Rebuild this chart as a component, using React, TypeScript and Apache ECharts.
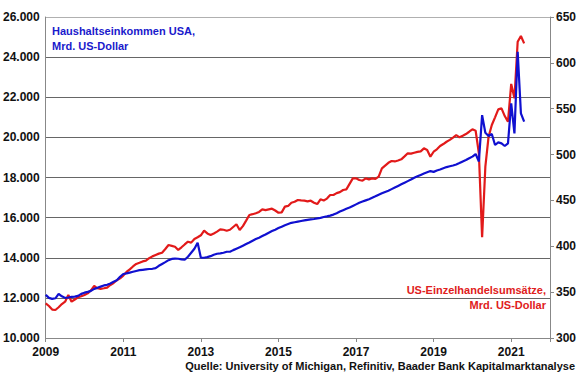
import React, { useEffect, useRef } from "react";
import * as echarts from "echarts";

const X_TICK_LABELS = ["2009", "2011", "2013", "2015", "2017", "2019", "2021"];

// Haushaltseinkommen USA, Mrd. US-Dollar (monthly, Jan 2009 - May 2021)
const income2009 = [12150, 12000, 11950, 11980, 12200, 12080, 12000, 12020, 12050, 12060, 12100, 12200];
const income2010 = [12260, 12300, 12350, 12450, 12500, 12560, 12620, 12650, 12720, 12800, 12880, 13050];
const income2011 = [13190, 13220, 13260, 13300, 13340, 13380, 13400, 13420, 13440, 13450, 13480, 13600];
const income2012 = [13690, 13780, 13880, 13940, 13960, 13950, 13920, 13900, 14050, 14250, 14450, 14750];
const income2013 = [14000, 14000, 14030, 14080, 14150, 14200, 14220, 14250, 14300, 14300, 14380, 14450];
const income2014 = [14520, 14600, 14680, 14760, 14850, 14930, 15000, 15080, 15160, 15250, 15330, 15400];
const income2015 = [15480, 15550, 15620, 15680, 15740, 15770, 15800, 15830, 15860, 15890, 15910, 15930];
const income2016 = [15960, 15990, 16030, 16060, 16100, 16150, 16220, 16300, 16370, 16440, 16500, 16580];
const income2017 = [16660, 16740, 16800, 16860, 16920, 16990, 17060, 17140, 17210, 17280, 17340, 17420];
const income2018 = [17500, 17580, 17660, 17740, 17820, 17900, 17990, 18060, 18130, 18200, 18260, 18320];
const income2019 = [18280, 18350, 18400, 18460, 18520, 18560, 18600, 18650, 18720, 18800, 18870, 18960];
const income2020 = [19040, 19170, 18800, 21110, 20230, 20070, 20170, 19620, 19750, 19700, 19570, 19700];
const income2021 = [21700, 20200, 24270, 21200, 20780];

// US-Einzelhandelsumsätze, Mrd. US-Dollar (monthly, Jan 2009 - May 2021)
const retail2009 = [337.8, 334.9, 331, 330.5, 333.5, 337, 339.6, 346.9, 339.6, 342, 344.4, 345.5];
const retail2010 = [346.9, 348.7, 352, 356.7, 354.2, 353.5, 354.2, 355, 357.8, 360, 363, 365];
const retail2011 = [368, 372, 374.9, 378, 380.7, 382, 383.5, 384.3, 387, 389, 390.5, 392];
const retail2012 = [393, 397, 401.4, 400.5, 399.5, 396, 398.9, 402, 405, 404, 408, 409.8];
const retail2013 = [412, 417, 414, 412.3, 414, 416, 418.5, 418, 417, 418, 421, 424];
const retail2014 = [417.8, 422, 428, 434.1, 435, 436, 437.5, 440.3, 439.5, 440.3, 441, 439];
const retail2015 = [436.6, 437, 443.2, 444, 447.5, 448.5, 450.5, 450, 449.7, 449, 449.7, 447.5];
const retail2016 = [446, 451.2, 450, 452, 455.9, 456, 458, 459, 461.4, 462, 468, 474];
const retail2017 = [474.1, 472.3, 471.5, 474.1, 473, 474, 473.5, 475.9, 485, 488, 491, 493];
const retail2018 = [492.5, 493.5, 494.8, 498, 501.4, 501, 502, 503, 503.5, 506.8, 505, 497.7];
const retail2019 = [503.1, 505.7, 509.3, 511.5, 514, 516, 518.5, 521.3, 518.8, 520.5, 522.4, 524.9];
const retail2020 = [527.5, 526, 501.4, 409.8, 486.8, 519.5, 532.2, 540.6, 549.3, 550.4, 542, 535.9];
const retail2021 = [577, 561.3, 623, 629.3, 621.3];

const incomeValues = [
  ...income2009, ...income2010, ...income2011, ...income2012, ...income2013, ...income2014, ...income2015,
  ...income2016, ...income2017, ...income2018, ...income2019, ...income2020, ...income2021,
];
const retailValues = [
  ...retail2009, ...retail2010, ...retail2011, ...retail2012, ...retail2013, ...retail2014, ...retail2015,
  ...retail2016, ...retail2017, ...retail2018, ...retail2019, ...retail2020, ...retail2021,
];

const FONT = "'Liberation Sans', Arial, sans-serif";
const BLUE = "#1010d0";
const RED = "#e21a1a";

function fmtThousands(v: number) {
  const s = Math.round(v).toString();
  return s.replace(/\B(?=(\d{3})+(?!\d))/g, ".");
}

export default function App() {
  const ref = useRef<HTMLDivElement>(null);
  useEffect(() => {
    document.body.style.margin = "0";
    if (!ref.current) return;
    const chart = echarts.init(ref.current, null, { renderer: "svg" });
    const toX = (i: number) => i / 12; // months since Jan 2009, in years
    const incomeData = incomeValues.map((v, i) => [toX(i), v]);
    const retailData = retailValues.map((v, i) => [toX(i), v]);
    chart.setOption({
      animation: false,
      backgroundColor: "#ffffff",
      grid: { left: 44, right: 30, top: 17, bottom: 37, containLabel: false },
      xAxis: {
        type: "value",
        min: 0,
        max: 13,
        interval: 2,
        axisLine: { show: true, lineStyle: { color: "#888888", width: 1 } },
        axisTick: { show: true, length: 4, inside: false, lineStyle: { color: "#888888" } },
        splitLine: { show: false },
        axisLabel: {
          color: "#111",
          fontFamily: FONT,
          fontWeight: "bold",
          fontSize: 12,
          margin: 8,
          formatter: (v: number) => {
            const idx = Math.round(v / 2);
            return X_TICK_LABELS[idx] ?? "";
          },
        },
      },
      yAxis: [
        {
          type: "value",
          min: 10000,
          max: 26000,
          interval: 2000,
          position: "left",
          axisLine: { show: true, lineStyle: { color: "#888888" } },
          axisTick: { show: false },
          splitLine: {
            show: true,
            lineStyle: {
              color: ["#888888", "#666666", "#666666", "#666666", "#666666", "#666666", "#666666", "#666666", "#b0b0b0"],
              width: 1,
            },
          },
          axisLabel: {
            color: "#111",
            fontFamily: FONT,
            fontWeight: "bold",
            fontSize: 12,
            margin: 6,
            formatter: (v: number) => fmtThousands(v),
          },
        },
        {
          type: "value",
          min: 300,
          max: 650,
          interval: 50,
          position: "right",
          axisLine: { show: true, lineStyle: { color: "#888888" } },
          axisTick: { show: true, length: 4, lineStyle: { color: "#888888" } },
          splitLine: { show: false },
          axisLabel: {
            color: "#111",
            fontFamily: FONT,
            fontWeight: "bold",
            fontSize: 12,
            margin: 6,
          },
        },
      ],
      series: [
        {
          name: "Haushaltseinkommen USA",
          type: "line",
          yAxisIndex: 0,
          data: incomeData,
          showSymbol: false,
          lineStyle: { color: BLUE, width: 2.2 },
          itemStyle: { color: BLUE },
          z: 3,
        },
        {
          name: "US-Einzelhandelsumsätze",
          type: "line",
          yAxisIndex: 1,
          data: retailData,
          showSymbol: false,
          lineStyle: { color: RED, width: 2.2 },
          itemStyle: { color: RED },
          z: 2,
        },
      ],
      graphic: [
        {
          type: "text",
          left: 52,
          top: 23,
          style: {
            text: "Haushaltseinkommen USA,\nMrd. US-Dollar",
            fill: "#1a1acc",
            font: `bold 11px ${FONT}`,
            lineHeight: 15,
          },
        },
        {
          type: "text",
          right: 34,
          top: 284,
          style: {
            text: "US-Einzelhandelsumsätze,",
            fill: "#e02020",
            font: `bold 11px ${FONT}`,
          },
        },
        {
          type: "text",
          right: 34,
          top: 299,
          style: {
            text: "Mrd. US-Dollar",
            fill: "#e02020",
            font: `bold 11px ${FONT}`,
          },
        },
        {
          type: "text",
          right: 5,
          top: 360,
          style: {
            text: "Quelle: University of Michigan, Refinitiv, Baader Bank Kapitalmarktanalyse",
            fill: "#111",
            font: `bold 11px ${FONT}`,
          },
        },
      ],
    });
    return () => chart.dispose();
  }, []);
  return (
    <div
      ref={ref}
      style={{ position: "absolute", left: 0, top: 0, width: 580, height: 375, background: "#fff" }}
    />
  );
}
